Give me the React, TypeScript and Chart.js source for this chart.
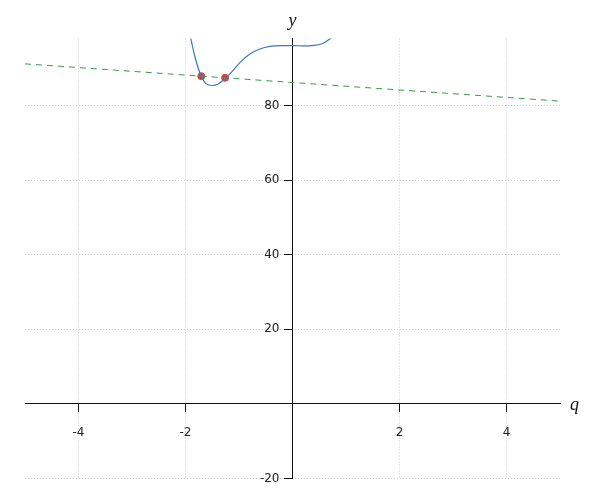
import React, { useEffect, useRef } from "react";
import { Chart, registerables } from "chart.js";

Chart.register(...registerables);

const curveQ = [-1.903, -1.82, -1.705, -1.617, -1.5, -1.39, -1.256, -1.13, -0.98, -0.79, -0.61, -0.42, -0.23, 0, 0.23, 0.36, 0.55, 0.72];
const curveY = [98.1, 92.9, 87.8, 85.9, 85.4, 85.8, 87.3, 89.1, 91.6, 93.9, 95.2, 95.9, 96.1, 96.1, 96.0, 96.1, 96.6, 98.1];
const lineQ = [-5, 5];
const lineY = [91.2, 81.2];
const pointQ = [-1.705, -1.26];
const pointY = [87.9, 87.46];
const xTicks = [-4, -2, 2, 4];
const yTicks = [-20, 20, 40, 60, 80];
const xTitle = "q";
const yTitle = "y";

const titlePlugin = {
  id: "axisTitles",
  afterDraw(chart: any) {
    const { ctx, chartArea, scales } = chart;
    ctx.save();
    ctx.fillStyle = "#111";
    ctx.font = 'italic 18px "Liberation Serif"';
    ctx.textBaseline = "alphabetic";
    ctx.textAlign = "center";
    ctx.fillText(yTitle, scales.x.getPixelForValue(0), 26);
    ctx.textAlign = "left";
    ctx.fillText(xTitle, chartArea.right + 10, scales.y.getPixelForValue(0) + 6);
    ctx.restore();
  },
};

export default function App() {
  const ref = useRef<HTMLCanvasElement>(null);
  useEffect(() => {
    const chart = new Chart(ref.current!, {
      type: "scatter",
      data: {
        datasets: [
          {
            type: "line",
            data: lineQ.map((q, i) => ({ x: q, y: lineY[i] })),
            borderColor: "#3a9a4a",
            borderWidth: 1,
            borderDash: [6, 5],
            pointRadius: 0,
            fill: false,
          },
          {
            type: "line",
            data: curveQ.map((q, i) => ({ x: q, y: curveY[i] })),
            borderColor: "#3a78c0",
            borderWidth: 1.2,
            cubicInterpolationMode: "monotone",
            pointRadius: 0,
            fill: false,
          },
          {
            data: pointQ.map((q, i) => ({ x: q, y: pointY[i] })),
            backgroundColor: "#d0463c",
            borderColor: "#d0463c",
            pointRadius: 3.5,
          },
        ],
      },
      options: {
        animation: false,
        responsive: false,
        maintainAspectRatio: false,
        layout: { padding: { left: 25, right: 40, top: 38.5, bottom: 21.5 } },
        plugins: { legend: { display: false }, tooltip: { enabled: false } },
        scales: {
          x: {
            type: "linear",
            min: -5,
            max: 5,
            position: { y: 0 } as any,
            afterFit: (s: any) => { s.height = 0; },
            afterBuildTicks: (s: any) => { s.ticks = xTicks.map((v) => ({ value: v })); },
            grid: { color: "rgba(0,0,0,0.2)", tickColor: "#111", tickLength: 8, lineWidth: 1 },
            border: { color: "#111", width: 1, dash: [1, 2] },
            ticks: { color: "#222", padding: 13.5, font: { family: "DejaVu Sans", size: 12 } },
          },
          y: {
            type: "linear",
            min: -20,
            max: 98,
            position: "center",
            afterFit: (s: any) => { s.width = 0; },
            afterBuildTicks: (s: any) => { s.ticks = yTicks.map((v) => ({ value: v })); },
            grid: { color: "rgba(0,0,0,0.2)", tickColor: "#111", tickLength: 8, lineWidth: 1 },
            border: { color: "#111", width: 1, dash: [1, 2] },
            ticks: { color: "#222", padding: 5, font: { family: "DejaVu Sans", size: 12 } },
          },
        },
      },
      plugins: [titlePlugin],
    });
    return () => chart.destroy();
  }, []);
  return (
    <div style={{ position: "fixed", left: 0, top: 0, width: 600, height: 500 }}>
      <canvas ref={ref} width={600} height={500} style={{ width: 600, height: 500 }} />
    </div>
  );
}
